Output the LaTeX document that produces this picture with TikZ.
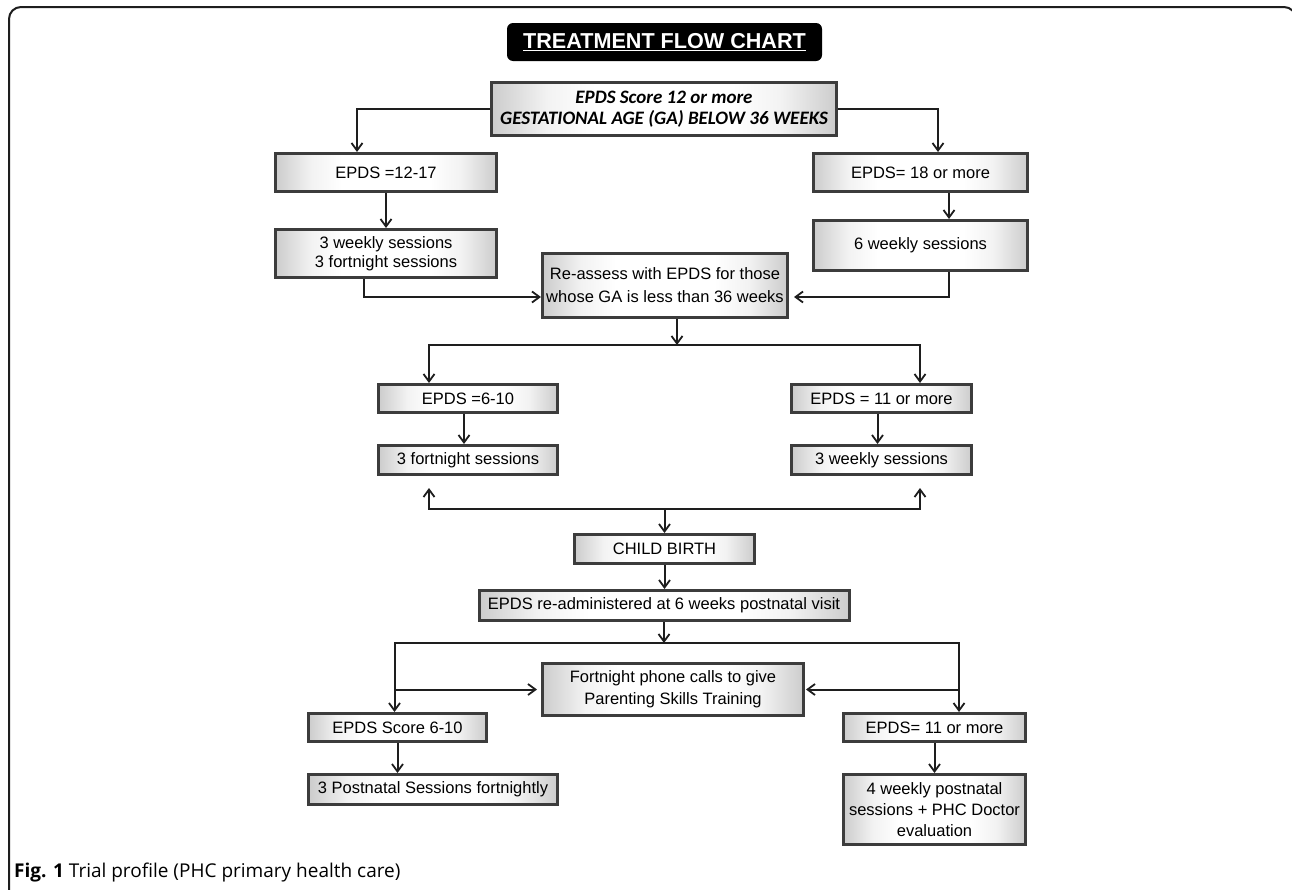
\documentclass[tikz,border=0pt]{standalone}
\usepackage{fontspec}
\setmainfont{Liberation Sans}
\newfontfamily\carl{Carlito}
\newfontfamily\opens{Open Sans}
\usetikzlibrary{arrows.meta}
\definecolor{boxc}{HTML}{3C3C3C}
\definecolor{linec}{HTML}{1E1E1E}
\pgfdeclarehorizontalshading{boxshade}{100bp}{color(0bp)=(black!20); color(25bp)=(black!20); color(33bp)=(black!5); color(40bp)=(white); color(60bp)=(white); color(67bp)=(black!5); color(75bp)=(black!20); color(100bp)=(black!20)}
\begin{document}
\begin{tikzpicture}[x=1pt,y=-1pt,
  box/.style={draw=boxc, line width=3pt, shading=boxshade,
    inner sep=0pt, align=center, font=\fontsize{16.5}{20}\selectfont},
  conn/.style={draw=linec, line width=2pt, -{Straight Barb[length=7.5pt,width=11pt,line width=1.8pt]}},
  plain/.style={draw=linec, line width=2pt}]
\useasboundingbox (0,0) rectangle (1292,889);
\begin{scope}
\clip (0,0) rectangle (1292,889);
\draw[linec, line width=2pt, rounded corners=12pt] (9,900) -- (9,7) -- (1296,7) -- (1296,900);
\end{scope}
% title
\node[fill=black, rounded corners=6pt, minimum width=315, minimum height=38, inner sep=0pt,
  text=white, font=\bfseries\fontsize{21.6}{24}\selectfont] (title) at (664.5,42) {\underline{TREATMENT FLOW CHART}};
% nodes
\node[box, minimum width=345, minimum height=53, font=\carl\bfseries\itshape\fontsize{19}{20.5}\selectfont] (A) at (664,109)
  {EPDS Score 12 or more\\GESTATIONAL AGE (GA) BELOW 36 WEEKS};
\node[box, minimum width=221, minimum height=38] (B) at (386,172.5) {EPDS =12-17};
\node[box, minimum width=221, minimum height=48, font=\fontsize{16.5}{18.5}\selectfont] (C) at (386,253.5) {3 weekly sessions\\3 fortnight sessions};
\node[box, minimum width=214, minimum height=38] (E) at (920.5,172.5) {EPDS= 18 or more};
\node[box, minimum width=214, minimum height=50] (F) at (920.5,245.5) {6 weekly sessions};
\node[box, minimum width=245, minimum height=64, font=\fontsize{16.5}{23}\selectfont] (D) at (665,285.5)
  {Re-assess with EPDS for those\\whose GA is less than 36 weeks};
\node[box, minimum width=179, minimum height=28] (G) at (468,398.5) {EPDS =6-10};
\node[box, minimum width=179, minimum height=29] (H) at (468,460) {3 fortnight sessions};
\node[box, minimum width=180, minimum height=28] (I) at (881.5,398.5) {EPDS = 11 or more};
\node[box, minimum width=180, minimum height=29] (J) at (881.5,460) {3 weekly sessions};
\node[box, minimum width=180, minimum height=29] (K) at (664.5,549) {CHILD BIRTH};
\node[box, minimum width=370, minimum height=30] (L) at (664,605.5) {EPDS re-administered at 6 weeks postnatal visit};
\node[box, minimum width=261, minimum height=52, font=\fontsize{16.5}{22}\selectfont] (N) at (673,689.5)
  {Fortnight phone calls to give\\Parenting Skills Training};
\node[box, minimum width=178, minimum height=28] (M) at (397.5,727.5) {EPDS Score 6-10};
\node[box, minimum width=182, minimum height=28] (O) at (934.5,727.5) {EPDS= 11 or more};
\node[box, minimum width=249, minimum height=30] (P) at (433,789.5) {3 Postnatal Sessions fortnightly};
\node[box, minimum width=182, minimum height=70, font=\fontsize{16.5}{21}\selectfont] (Q) at (934.5,809.5)
  {4 weekly postnatal\\sessions + PHC Doctor\\evaluation};
% caption
\node[anchor=base west, inner sep=0pt, font=\opens\fontsize{19}{22}\selectfont] (cap) at (14,877)
  {\textbf{Fig. 1} Trial profile (PHC primary health care)};
% connectors
\coordinate (s1) at (677,345);
\coordinate (s2) at (664.5,509);
\coordinate (s3) at (664,643);
\draw[conn] (A.west) -| ([xshift=-29pt]B.north);
\draw[conn] (A.east) -| ([xshift=17.5pt]E.north);
\draw[conn] (B.south) -- (C.north);
\draw[conn] ([xshift=28.5pt]E.south) -- ([xshift=28.5pt]F.north);
\draw[conn] ([xshift=-22pt]C.south) |- ([yshift=-11.5pt]D.west);
\draw[conn, shorten >=5pt] ([xshift=28.5pt]F.south) |- ([yshift=-11.5pt]D.east);
\draw[conn] (D.south -| s1) -- (s1);
\draw[conn] (s1) -| ([xshift=-39pt]G.north);
\draw[conn] (s1) -| ([xshift=38.5pt]I.north);
\draw[conn] ([xshift=-4pt]G.south) -- ([xshift=-4pt]H.north);
\draw[conn] ([xshift=-4pt]I.south) -- ([xshift=-4pt]J.north);
\draw[conn, shorten >=12pt] (s2) -| ([xshift=-39pt]H.south);
\draw[conn, shorten >=12pt] (s2) -| ([xshift=38.5pt]J.south);
\draw[conn] (s2) -- (K.north);
\draw[conn] (K.south) -- (K.south |- L.north);
\draw[conn] (L.south) -- (s3);
\draw[conn] (s3) -| ([xshift=-3pt]M.north);
\draw[conn] (s3) -| ([xshift=24.5pt]O.north);
\draw[conn, shorten >=4pt] ([xshift=-3pt]M.north |- N.west) -- (N.west);
\draw[conn, shorten >=1pt] ([xshift=24.5pt]O.north |- N.east) -- (N.east);
\draw[conn] (M.south) -- (M.south |- P.north);
\draw[conn] (O.south) -- (O.south |- Q.north);
\end{tikzpicture}
\end{document}
